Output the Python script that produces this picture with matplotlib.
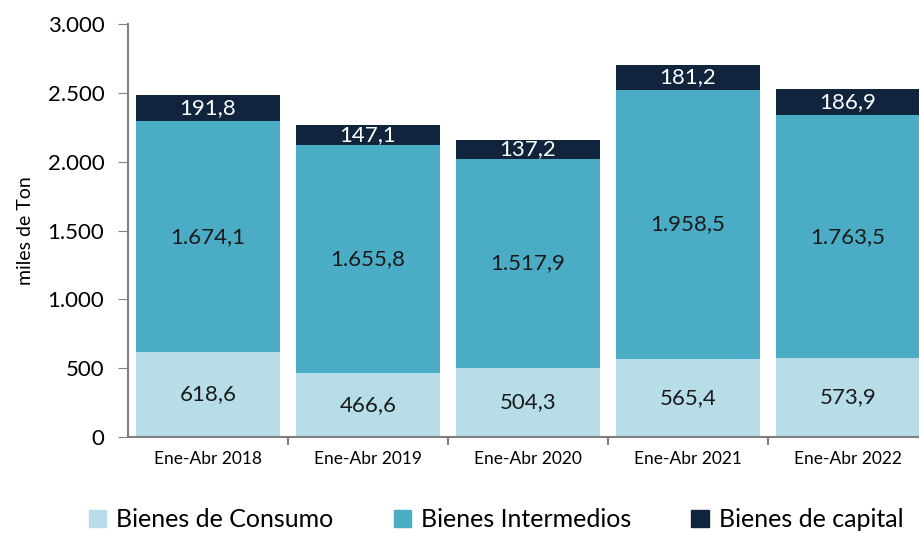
import matplotlib.pyplot as plt
from matplotlib.patches import Patch
from matplotlib.ticker import FuncFormatter

periodos = ['Ene-Abr 2018', 'Ene-Abr 2019', 'Ene-Abr 2020', 'Ene-Abr 2021', 'Ene-Abr 2022']
consumo = [618.6, 466.6, 504.3, 565.4, 573.9]
intermedios = [1674.1, 1655.8, 1517.9, 1958.5, 1763.5]
capital = [191.8, 147.1, 137.2, 181.2, 186.9]

c_cons = '#b7dde8'
c_int = '#4bacc6'
c_cap = '#10243e'

plt.rcParams['font.family'] = ['Lato', 'DejaVu Sans']


def fmt_num(v, dec=1):
    s = f'{v:,.{dec}f}'
    return s.replace(',', 'X').replace('.', ',').replace('X', '.')


fig = plt.figure(figsize=(9.19, 5.33), dpi=100)
ax = fig.add_axes([128 / 919, 0.180, 800 / 919, 0.775])

x = list(range(len(periodos)))
base2 = consumo
base3 = [a + b for a, b in zip(consumo, intermedios)]
w = 0.9
ax.bar(x, consumo, width=w, color=c_cons)
ax.bar(x, intermedios, width=w, bottom=base2, color=c_int)
ax.bar(x, capital, width=w, bottom=base3, color=c_cap)

for i in x:
    ax.text(i, consumo[i] / 2, fmt_num(consumo[i]), ha='center', va='center',
            fontsize=16, color='#1a1a1a')
    ax.text(i, base2[i] + intermedios[i] / 2, fmt_num(intermedios[i]), ha='center',
            va='center', fontsize=16, color='#1a1a1a')
    ax.text(i, base3[i] + capital[i] / 2, fmt_num(capital[i]), ha='center',
            va='center', fontsize=16, color='white')

ax.set_xlim(-0.5, 4.5)
ax.set_ylim(0, 3000)
ax.set_yticks(range(0, 3001, 500))
ax.yaxis.set_major_formatter(FuncFormatter(lambda v, p: fmt_num(v, 0)))
ax.tick_params(axis='y', labelsize=16, length=7, color='#808080', pad=10)
ax.set_ylabel('miles de Ton', fontsize=14, labelpad=10)

ax.set_xticks(x)
ax.set_xticklabels(periodos, fontsize=12.5)
ax.tick_params(axis='x', length=0, pad=10)
ax.set_xticks([i + 0.5 for i in x[:-1]], minor=True)
ax.tick_params(axis='x', which='minor', length=6, color='#808080', width=1.5)

for s in ['top', 'right']:
    ax.spines[s].set_visible(False)
ax.spines['left'].set_color('#808080')
ax.spines['bottom'].set_color('#808080')
ax.spines['left'].set_linewidth(1.5)
ax.spines['bottom'].set_linewidth(1.5)

handles = [Patch(color=c_cons), Patch(color=c_int), Patch(color=c_cap)]
fig.legend(handles, ['Bienes de Consumo', 'Bienes Intermedios', 'Bienes de capital'],
           loc='center', bbox_to_anchor=(0.54, 0.025), ncol=3, frameon=False,
           fontsize=18, handlelength=0.7, handleheight=0.7, columnspacing=2.4,
           handletextpad=0.4, borderpad=0)

fig.savefig('out.png', dpi=100)
